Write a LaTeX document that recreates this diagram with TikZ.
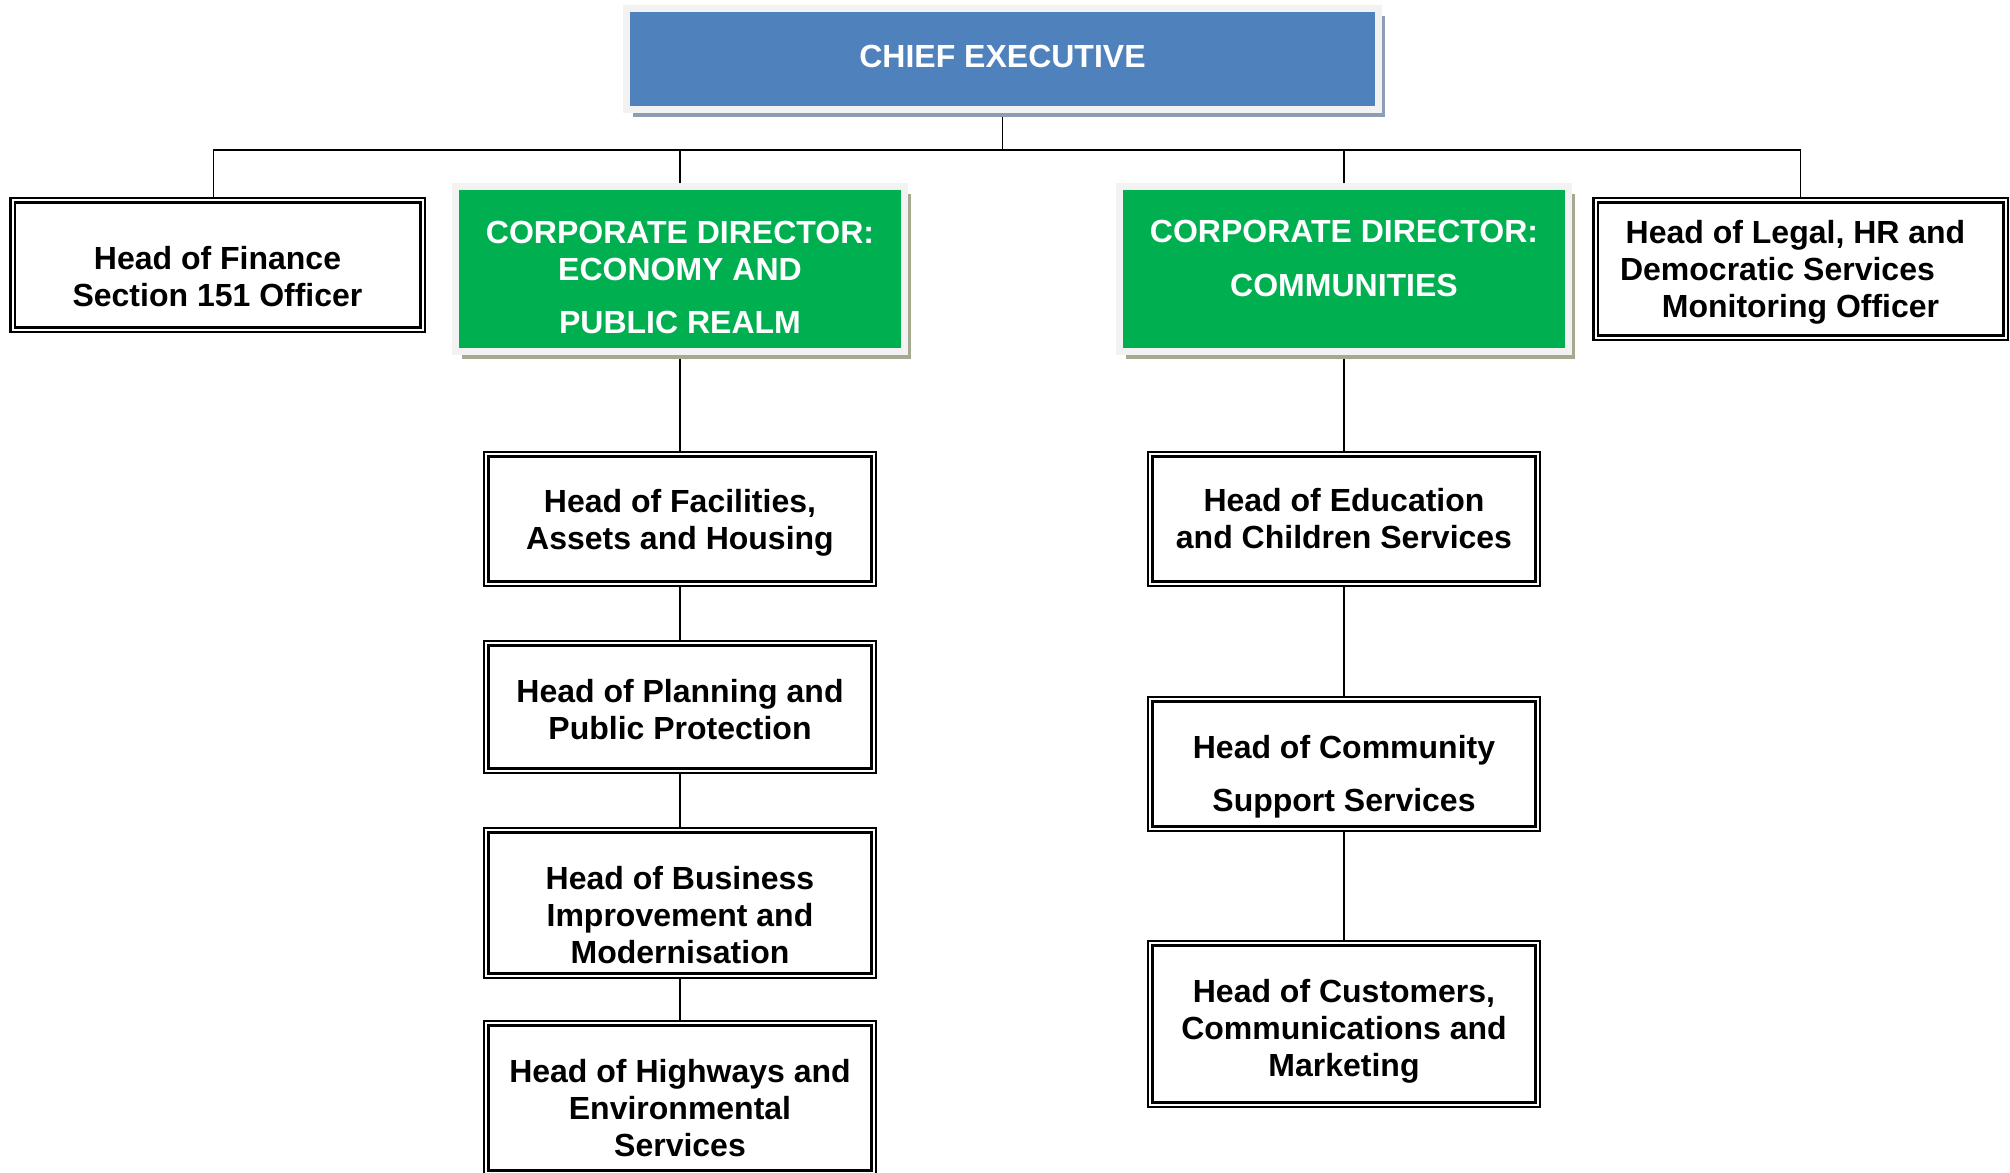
\documentclass[tikz,border=0pt]{standalone}
\usepackage{fontspec}
\setmainfont{Liberation Sans}
\usepackage{xcolor}
\usepackage{tikz}
\usetikzlibrary{shadows,backgrounds}
\definecolor{chiefblue}{HTML}{4F81BD}
\definecolor{dirgreen}{HTML}{00B050}
\definecolor{framegray}{HTML}{F2F2F2}
\definecolor{blueshadow}{HTML}{8C9EB6}
\definecolor{greenshadow}{HTML}{A5A98F}
\newcommand\boxfont{\fontsize{16}{18.5}\selectfont\bfseries}
\newcommand\txtdown[1]{\rule{0pt}{#1}}
\newcommand\txtup[1]{\rule[-#1]{0pt}{#1}}

\begin{document}
\begin{tikzpicture}[x=0.5pt, y=-0.5pt,
    headbox/.style={draw, line width=1.2pt, double=white, double distance=1pt,
      minimum width=193.6pt, minimum height=64.6pt, align=center, inner sep=0pt,
      font=\boxfont},
    topbox/.style={draw=framegray, line width=3.5pt, text=white, align=center,
      inner sep=0pt, font=\boxfont},
    link/.style={line width=0.8pt}]
    \useasboundingbox (0, 0) rectangle (2010, 1173);
    \clip (0, 0) rectangle (2010, 1173);

    % top row
    \node[topbox, fill=chiefblue, minimum width=376pt, minimum height=50.5pt,
      drop shadow={shadow xshift=3pt, shadow yshift=-3.5pt, fill=blueshadow, opacity=1}]
      (Chief) at (1002.5, 59) {CHIEF EXECUTIVE\txtup{2.6pt}};
    \node[topbox, fill=dirgreen, minimum width=224.5pt, minimum height=82.5pt,
      drop shadow={shadow xshift=3pt, shadow yshift=-3.5pt, fill=greenshadow, opacity=1}]
      (Eco) at (680, 269)
      {\txtdown{19.3pt}CORPORATE DIRECTOR:\\ ECONOMY AND\\[8pt] PUBLIC REALM};
    \node[topbox, fill=dirgreen, minimum width=224.5pt, minimum height=82.5pt,
      drop shadow={shadow xshift=3pt, shadow yshift=-3.5pt, fill=greenshadow, opacity=1}]
      (Com) at (1344, 269) {CORPORATE DIRECTOR:\\[8.5pt] COMMUNITIES\txtup{10.2pt}};
    \node[headbox, minimum width=205pt] (Fin) at (217.5, 265)
      {\txtdown{23.2pt}Head of Finance\\ Section 151 Officer};
    \node[headbox, minimum width=205pt, minimum height=68.6pt] (Leg) at (1800.5, 269)
      {\txtdown{14.9pt}Head of Legal, HR and\rule{5pt}{0pt}\\
       Democratic Services\rule{23pt}{0pt}\\ Monitoring Officer};

    % left column
    \node[headbox] (Fac) at (680, 519)
      {\txtdown{15.5pt}Head of Facilities,\\ Assets and Housing};
    \node[headbox, minimum height=63.6pt] (Plan) at (680, 707)
      {\txtdown{13.7pt}Head of Planning and\\ Public Protection};
    \node[headbox, minimum height=72.6pt] (Busi) at (680, 903)
      {\txtdown{23.2pt}Head of Business\\ Improvement and\\ Modernisation};
    \node[headbox, minimum height=74.6pt] (High) at (680, 1098)
      {\txtdown{21.9pt}Head of Highways and\\ Environmental\\ Services};

    % right column
    \node[headbox] (Edu) at (1344, 519) {Head of Education\\ and Children Services};
    \node[headbox] (Comm) at (1344, 764)
      {\txtdown{24.5pt}Head of Community\\[8pt] Support Services};
    \node[headbox, minimum height=80.6pt] (Cust) at (1344, 1024)
      {\txtdown{18.7pt}Head of Customers,\\ Communications and\\ Marketing};

    \coordinate (Bar) at (1002.5, 150);

    \begin{pgfonlayer}{background}
    \draw[link] (Chief.south) -- (Bar);
    \draw[link] ([xshift=-2pt]Fin.north) |- (Bar) -| (Leg.north);
    \draw[link] (Eco.north) -- (Eco.north |- Bar);
    \draw[link] (Com.north) -- (Com.north |- Bar);

    \draw[link] (Eco.south) -- (Fac.north);
    \draw[link] (Fac.south) -- (Plan.north);
    \draw[link] (Plan.south) -- (Busi.north);
    \draw[link] (Busi.south) -- (High.north);

    \draw[link] (Com.south) -- (Edu.north);
    \draw[link] (Edu.south) -- (Comm.north);
    \draw[link] (Comm.south) -- (Cust.north);
    \end{pgfonlayer}
  \end{tikzpicture}
\end{document}
